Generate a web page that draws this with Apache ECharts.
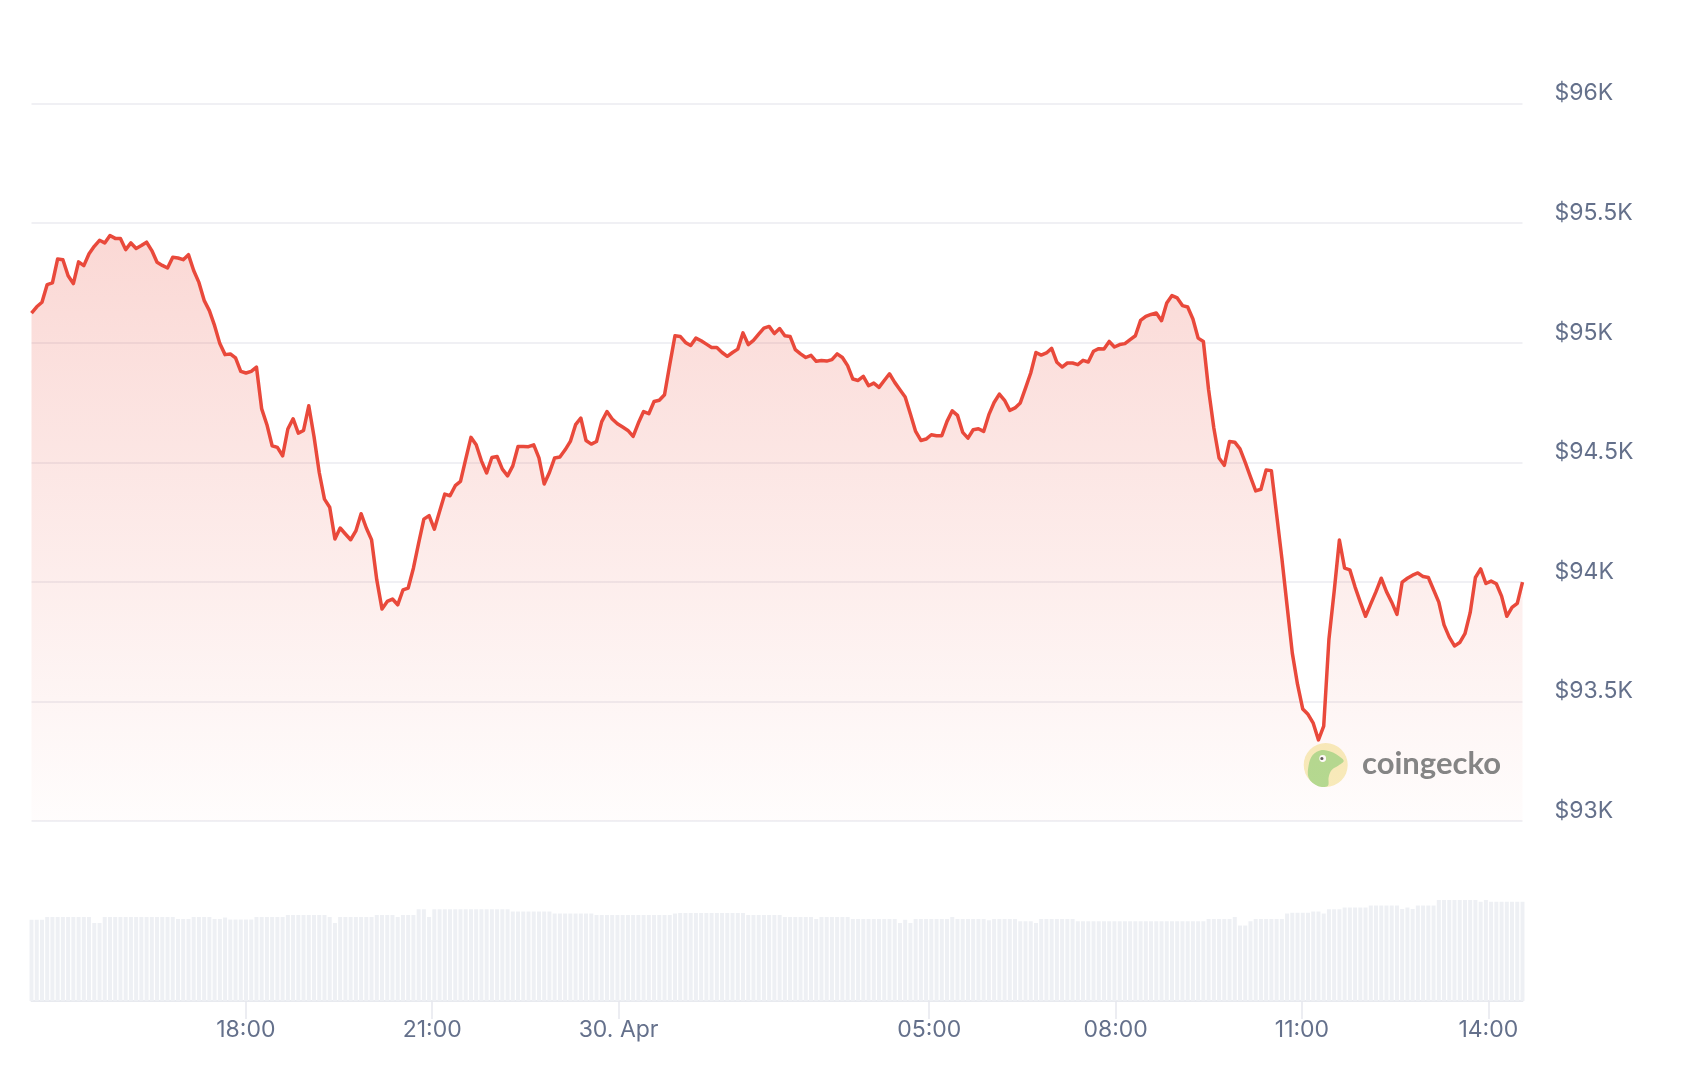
<!DOCTYPE html>
<html>
<head>
<meta charset="utf-8">
<script src="https://cdn.jsdelivr.net/npm/echarts@6/dist/echarts.min.js"></script>
<style>
  html, body { margin: 0; padding: 0; background: #ffffff; }
  #chart { width: 1704px; height: 1066px; }
</style>
</head>
<body>
<div id="chart"></div>
<script>
// ---- Data (BTC price, 24h) ----
const START_MIN = 873;          // 29 Apr 14:33, minutes after 29 Apr 00:00
const SPAN_MIN = 1440;          // 24 hours shown

const tickMinutes = [1080, 1260, 1440, 1740, 1920, 2100, 2280];
const tickLabels  = ['18:00', '21:00', '30. Apr', '05:00', '08:00', '11:00', '14:00'];

const priceTicks = [93000, 93500, 94000, 94500, 95000, 95500, 96000];

const prices = [
  95124, 95150, 95169, 95243, 95250, 95350, 95347, 95280, 95247, 95338,
  95322, 95372, 95403, 95428, 95417, 95448, 95436, 95436, 95389, 95417,
  95394, 95406, 95420, 95385, 95336, 95323, 95312, 95357, 95354, 95347,
  95368, 95302, 95252, 95177, 95134, 95071, 94996, 94950, 94953, 94936,
  94880, 94873, 94880, 94898, 94723, 94657, 94569, 94562, 94527, 94639,
  94682, 94622, 94633, 94736, 94608, 94457, 94346, 94312, 94179, 94225,
  94200, 94176, 94213, 94285, 94225, 94176, 94008,
  93886, 93918, 93928,
  93904, 93966, 93974, 94057, 94162, 94262, 94277, 94220, 94294, 94367,
  94360, 94402, 94420, 94513, 94604, 94573, 94506, 94455, 94520, 94524,
  94471, 94443, 94485, 94566, 94566, 94565, 94573, 94518, 94409, 94457,
  94518, 94522, 94552, 94587, 94657, 94685, 94591, 94576, 94587, 94670,
  94712, 94681, 94661, 94647, 94633, 94608, 94664, 94712, 94703, 94754,
  94759, 94782, 94908, 95029, 95026, 95001, 94988, 95019, 95008, 94994,
  94980, 94980, 94959, 94943, 94959, 94973, 95041, 94992, 95010, 95036,
  95061, 95068, 95038, 95059, 95029, 95026, 94971, 94953, 94938, 94947,
  94922, 94925, 94923, 94929, 94953, 94938, 94904,
  94848, 94842, 94859, 94820, 94831, 94813, 94842, 94870, 94834, 94803,
  94773, 94702, 94629, 94591, 94597, 94615, 94611, 94611, 94671, 94715,
  94696, 94625, 94601, 94636, 94640, 94629, 94699, 94750, 94785, 94759,
  94717, 94727, 94748, 94810, 94873, 94959, 94948, 94957, 94976, 94918,
  94898, 94915, 94915, 94908, 94926, 94919, 94964, 94975, 94974, 95005,
  94982, 94992, 94996, 95013, 95029, 95093, 95110, 95118, 95124, 95092,
  95166, 95197, 95187, 95155, 95149, 95099, 95019, 95005, 94803, 94643,
  94518, 94487, 94587, 94584, 94556,
  94499, 94439, 94380, 94387, 94468, 94465, 94282, 94099, 93900, 93702,
  93571, 93468, 93446, 93409, 93339, 93397, 93760, 93960, 94175, 94057,
  94050, 93978, 93915, 93856, 93908, 93959, 94015, 93959, 93915, 93864,
  93999, 94015, 94028, 94037, 94022, 94018, 93967, 93915, 93820, 93769,
  93732, 93746, 93783, 93871, 94018, 94054, 93993, 94003, 93992, 93940,
  93856, 93893, 93910, 93999
];

// 24h rolling volume (billions USD, relative scale)
const volumes = [
  32.5, 32.5, 32.5, 33.6, 33.6, 33.6, 33.6, 33.6, 33.6, 33.6,
  33.6, 33.6, 31.2, 31.2, 33.6, 33.6, 33.6, 33.6, 33.6, 33.6,
  33.6, 33.6, 33.6, 33.6, 33.6, 33.6, 33.6, 33.6, 32.8, 32.8,
  32.8, 33.6, 33.6, 33.6, 33.6, 32.8, 32.8, 33.4, 32.6, 32.6,
  32.6, 32.6, 32.6, 33.6, 33.6, 33.6, 33.6, 33.6, 33.6, 34.4,
  34.4, 34.4, 34.4, 34.4, 34.4, 34.4, 34.4, 33.6, 31.2, 33.6,
  33.6, 33.6, 33.6, 33.6, 33.6, 33.6, 34.4, 34.4, 34.4, 34.4,
  33.6, 34.4, 34.4, 34.4, 36.7, 36.7, 33.6, 36.7, 36.7, 36.7,
  36.7, 36.7, 36.7, 36.7, 36.7, 36.7, 36.7, 36.7, 36.7, 36.7,
  36.7, 36.7, 35.8, 35.8, 35.8, 35.8, 35.8, 35.8, 35.8, 35.8,
  35.0, 35.0, 35.0, 35.0, 35.0, 35.0, 35.0, 35.0, 34.4, 34.4,
  34.4, 34.4, 34.4, 34.4, 34.4, 34.4, 34.4, 34.4, 34.4, 34.4,
  34.4, 34.4, 34.4, 35.0, 35.2, 35.2, 35.2, 35.2, 35.2, 35.2,
  35.2, 35.2, 35.2, 35.2, 35.2, 35.2, 35.2, 34.4, 34.4, 34.4,
  34.4, 34.4, 34.4, 34.4, 33.6, 33.6, 33.6, 33.6, 33.6, 33.6,
  32.8, 33.6, 33.6, 33.6, 33.6, 33.6, 33.6, 32.8, 32.8, 32.8,
  32.8, 32.8, 32.8, 32.8, 32.8, 32.8, 31.2, 32.5, 31.2, 32.8,
  32.8, 32.8, 32.8, 32.8, 32.8, 32.8, 33.6, 32.8, 32.8, 32.8,
  32.8, 32.8, 32.8, 32.3, 32.8, 32.8, 32.8, 32.8, 32.8, 31.9,
  31.9, 31.9, 31.2, 32.8, 32.8, 32.8, 32.8, 32.8, 32.8, 32.8,
  31.9, 31.9, 31.9, 31.9, 31.9, 31.9, 31.9, 31.9, 31.9, 31.9,
  31.9, 31.9, 31.9, 31.9, 31.9, 31.9, 31.9, 31.9, 31.9, 31.9,
  31.9, 31.9, 31.9, 31.9, 31.9, 32.8, 32.8, 32.8, 32.8, 32.8,
  33.6, 30.2, 30.2, 31.9, 32.8, 32.8, 32.8, 32.8, 32.8, 32.8,
  35.0, 35.3, 35.3, 35.3, 35.3, 35.8, 35.8, 35.0, 36.7, 36.7,
  36.7, 37.4, 37.4, 37.4, 37.4, 37.4, 38.2, 38.2, 38.2, 38.2,
  38.2, 38.2, 36.8, 37.4, 36.8, 38.2, 38.2, 38.2, 38.2, 40.4,
  40.4, 40.4, 40.4, 40.4, 40.4, 40.4, 40.4, 39.7, 40.4, 39.7,
  39.7, 39.7, 39.7, 39.7, 39.7, 39.7
];

// ---- Chart ----
const STEP = SPAN_MIN / (prices.length - 1);
const priceData = prices.map((p, i) => [START_MIN + i * STEP, p]);
const volumeData = volumes.map((v, i) => [START_MIN + i * STEP, v]);

const LABEL_COLOR = '#64708b';
const FONT = 'Inter, "Noto Sans", sans-serif';

const chart = echarts.init(document.getElementById('chart'), null, { renderer: 'canvas' });

chart.setOption({
  backgroundColor: '#ffffff',
  animation: false,
  grid: [
    { left: 31.5, right: 181.5, top: 103.5, bottom: 245 },
    { left: 31.5, right: 181.5, top: 891, bottom: 65 }
  ],
  xAxis: [
    {
      type: 'value', gridIndex: 0,
      min: START_MIN, max: START_MIN + SPAN_MIN,
      show: false
    },
    {
      type: 'value', gridIndex: 1,
      min: START_MIN, max: START_MIN + SPAN_MIN,
      axisLine: { show: true, lineStyle: { color: '#e8eaef', width: 2 } },
      axisTick: { show: true, customValues: tickMinutes, length: 18, lineStyle: { color: '#e6e8ee', width: 1.5 } },
      axisLabel: {
        customValues: tickMinutes,
        formatter: (v) => tickLabels[tickMinutes.indexOf(v)] || '',
        color: LABEL_COLOR, fontSize: 23, fontFamily: FONT, margin: 18
      },
      splitLine: { show: false }
    }
  ],
  yAxis: [
    {
      type: 'value', gridIndex: 0, position: 'right',
      min: priceTicks[0], max: priceTicks[priceTicks.length - 1], interval: 500,
      axisLine: { show: false },
      axisTick: { show: false },
      splitLine: { show: true, lineStyle: { color: '#ebebf0', width: 1.5 } },
      axisLabel: {
        margin: 32, align: 'left', verticalAlign: 'bottom', lineHeight: 20,
        color: LABEL_COLOR, fontSize: 23, fontFamily: FONT,
        formatter: (v) => '$' + (v / 1000) + 'K'
      }
    },
    {
      type: 'value', gridIndex: 1, min: 0, max: 44, show: false
    }
  ],
  series: [
    {
      type: 'bar', xAxisIndex: 1, yAxisIndex: 1,
      data: volumeData, barWidth: 4, silent: true,
      itemStyle: { color: '#eef0f4' }
    },
    {
      type: 'line', xAxisIndex: 0, yAxisIndex: 0,
      data: priceData, showSymbol: false, smooth: false, z: 3,
      lineStyle: { color: '#e9493b', width: 3.5, join: 'round' },
      areaStyle: {
        color: {
          type: 'linear', x: 0, y: 0, x2: 0, y2: 1,
          colorStops: [
            { offset: 0, color: 'rgba(234, 76, 60, 0.31)' },
            { offset: 1, color: 'rgba(234, 76, 60, 0.02)' }
          ]
        }
      }
    }
  ],
  graphic: [
    {
      type: 'group', x: 1325.7, y: 765, z: 10,
      children: [
        { type: 'circle', shape: { cx: 0, cy: 0, r: 22 }, style: { fill: '#f8eebd' } },
        {
          type: 'polygon',
          shape: {
            points: [[-17, 13], [-17, 0], [-13, -10], [-4, -15], [6, -13], [13, -9], [18, -4], [12, 1], [6, 5], [3, 12], [2, 21], [-8, 21]],
            smooth: 0.35
          },
          style: { fill: '#b3dc92' }
        },
        { type: 'circle', shape: { cx: -3, cy: -6.5, r: 3.4 }, style: { fill: '#ffffff' } },
        { type: 'circle', shape: { cx: -3.8, cy: -6.5, r: 1.6 }, style: { fill: '#5a5a5a' } }
      ]
    },
    {
      type: 'text', x: 1362, y: 764, z: 10,
      style: {
        text: 'coingecko', fill: '#858585',
        font: 'bold 31px Lato, "Noto Sans", sans-serif',
        verticalAlign: 'middle'
      }
    }
  ]
});
</script>
</body>
</html>
